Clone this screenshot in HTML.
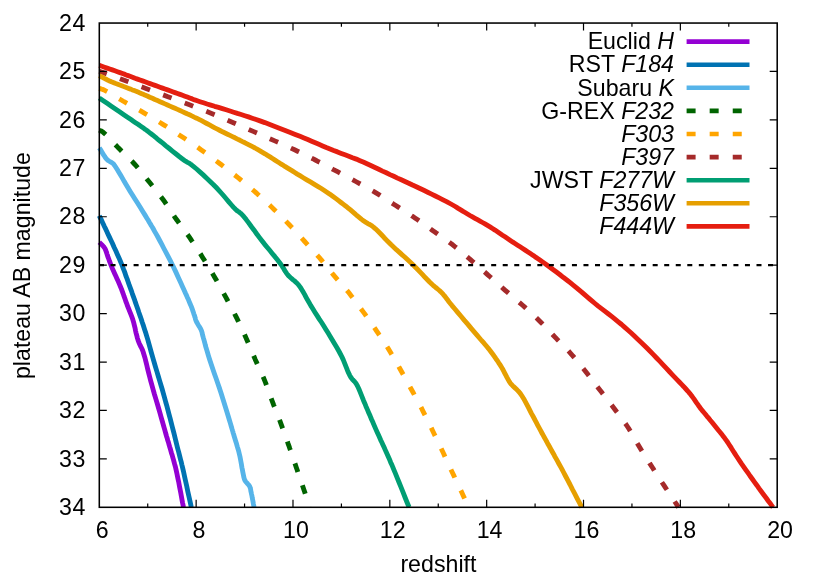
<!DOCTYPE html>
<html lang="en">
<head>
<meta charset="utf-8">
<title>plateau AB magnitude vs redshift</title>
<style>
html,body{margin:0;padding:0;background:#fff;}
body{width:830px;height:581px;overflow:hidden;}
svg{display:block;will-change:transform;}
text{font-family:"Liberation Sans",sans-serif;font-size:23.2px;fill:#000;}
.it{font-style:italic;}
</style>
</head>
<body>
<svg width="830" height="581" viewBox="0 0 830 581">
<rect x="0" y="0" width="830" height="581" fill="#ffffff"/>
<text x="102.20" y="538.25" text-anchor="middle">6</text>
<text x="199.04" y="538.25" text-anchor="middle">8</text>
<text x="295.89" y="538.25" text-anchor="middle">10</text>
<text x="392.73" y="538.25" text-anchor="middle">12</text>
<text x="489.57" y="538.25" text-anchor="middle">14</text>
<text x="586.41" y="538.25" text-anchor="middle">16</text>
<text x="683.26" y="538.25" text-anchor="middle">18</text>
<text x="780.10" y="538.25" text-anchor="middle">20</text>
<text x="85.90" y="30.65" text-anchor="end" letter-spacing="0.6">24</text>
<text x="85.90" y="79.10" text-anchor="end" letter-spacing="0.6">25</text>
<text x="85.90" y="127.55" text-anchor="end" letter-spacing="0.6">26</text>
<text x="85.90" y="176.00" text-anchor="end" letter-spacing="0.6">27</text>
<text x="85.90" y="224.45" text-anchor="end" letter-spacing="0.6">28</text>
<text x="85.90" y="272.90" text-anchor="end" letter-spacing="0.6">29</text>
<text x="85.90" y="321.35" text-anchor="end" letter-spacing="0.6">30</text>
<text x="85.90" y="369.80" text-anchor="end" letter-spacing="0.6">31</text>
<text x="85.90" y="418.25" text-anchor="end" letter-spacing="0.6">32</text>
<text x="85.90" y="466.70" text-anchor="end" letter-spacing="0.6">33</text>
<text x="85.90" y="515.15" text-anchor="end" letter-spacing="0.6">34</text>
<text x="438.40" y="572.10" text-anchor="middle" font-size="23">redshift</text>
<text transform="translate(29.80 265.60) rotate(-90)" text-anchor="middle">plateau AB magnitude</text>
<g fill="none" stroke-linejoin="round" stroke-linecap="butt" stroke-width="4.85">
<path d="M99.3 242.2L100.0 242.9L100.7 243.6L101.4 244.3L102.2 245.0L102.9 245.8L103.5 246.5L104.1 247.3L104.7 248.1L105.2 249.0L105.6 250.0L106.0 251.0L106.3 252.0L106.7 253.0L107.0 254.1L107.3 255.1L107.7 256.2L108.1 257.4L108.6 258.6L109.0 259.8L109.4 261.0L109.9 262.2L110.4 263.5L110.9 264.9L111.5 266.3L112.4 268.5L113.5 270.9L114.6 273.4L115.8 276.0L117.0 278.7L118.2 281.3L119.3 283.9L120.4 286.5L121.4 288.9L122.3 291.4L123.2 293.8L124.0 296.2L124.9 298.6L125.7 301.0L126.6 303.3L127.4 305.6L128.1 307.5L128.9 309.3L129.6 311.1L130.3 312.9L131.0 314.6L131.7 316.4L132.4 318.3L133.0 320.2L133.7 322.6L134.3 325.1L135.0 327.8L135.5 330.5L136.1 333.1L136.8 335.7L137.4 338.1L138.1 340.4L138.7 342.0L139.3 343.4L139.9 344.7L140.5 346.0L141.2 347.3L141.8 348.6L142.5 350.1L143.1 351.8L144.0 354.8L145.0 358.0L145.9 361.6L146.8 365.3L147.7 369.2L148.7 373.1L149.7 377.0L150.7 380.9L151.9 385.2L153.2 389.8L154.5 394.5L155.9 399.1L157.3 403.8L158.6 408.2L159.8 412.4L160.9 416.3L161.6 418.8L162.3 421.2L162.9 423.4L163.5 425.5L164.1 427.6L164.7 429.7L165.3 431.8L165.9 434.0L166.5 436.2L167.2 438.3L167.8 440.5L168.5 442.6L169.1 444.8L169.7 446.9L170.4 449.1L171.0 451.3L171.6 453.5L172.3 455.6L172.9 457.8L173.5 459.9L174.1 462.1L174.7 464.4L175.4 466.8L176.0 469.4L176.9 473.5L177.8 477.9L178.8 482.6L179.7 487.5L180.7 492.5L181.6 497.5L182.5 502.5L183.5 507.3" stroke="#9400D3"/>
<path d="M99.3 215.7L100.3 217.9L101.4 220.0L102.4 222.2L103.4 224.3L104.4 226.5L105.5 228.7L106.6 231.0L107.7 233.4L109.2 236.6L110.8 240.0L112.5 243.5L114.1 247.2L115.8 250.8L117.4 254.4L119.0 257.9L120.4 261.2L121.5 263.9L122.5 266.4L123.4 268.9L124.4 271.4L125.3 273.9L126.1 276.4L127.1 278.9L128.0 281.5L129.0 284.4L130.1 287.3L131.2 290.3L132.2 293.3L133.3 296.3L134.4 299.3L135.4 302.4L136.5 305.5L137.7 308.8L138.8 312.2L140.0 315.6L141.2 319.0L142.3 322.5L143.5 325.9L144.6 329.4L145.7 332.8L146.7 336.1L147.7 339.4L148.6 342.6L149.5 345.9L150.4 349.2L151.3 352.5L152.3 355.9L153.3 359.4L154.5 363.5L155.7 367.7L157.0 371.9L158.3 376.3L159.6 380.6L160.9 385.0L162.2 389.3L163.4 393.6L164.6 397.8L165.7 402.0L166.9 406.2L168.0 410.4L169.1 414.6L170.2 418.7L171.2 422.7L172.2 426.5L173.0 429.7L173.8 432.7L174.6 435.8L175.3 438.7L176.0 441.6L176.7 444.5L177.4 447.3L178.1 450.0L178.7 452.2L179.2 454.2L179.7 456.2L180.2 458.2L180.7 460.1L181.3 462.2L181.8 464.5L182.4 466.9L183.4 471.1L184.4 475.8L185.5 480.8L186.7 486.0L187.8 491.4L189.0 496.8L190.2 502.1L191.3 507.3" stroke="#0072B2"/>
<path d="M99.3 147.8L100.3 149.3L101.2 150.9L102.2 152.5L103.1 154.1L104.1 155.6L105.0 157.1L106.0 158.4L107.0 159.5L107.8 160.2L108.6 160.8L109.4 161.3L110.2 161.7L111.0 162.2L111.7 162.6L112.4 163.0L113.0 163.5L113.3 163.8L113.6 164.1L113.8 164.3L114.0 164.6L114.2 164.9L114.4 165.2L114.7 165.6L115.0 166.0L116.1 167.7L117.4 169.8L119.0 172.4L120.7 175.3L122.5 178.4L124.3 181.6L126.2 184.8L128.0 187.8L130.2 191.4L132.6 195.3L135.1 199.3L137.7 203.3L140.2 207.3L142.6 211.2L144.9 214.9L146.9 218.2L148.2 220.3L149.3 222.2L150.4 224.0L151.4 225.8L152.5 227.5L153.5 229.3L154.6 231.3L155.8 233.4L157.7 236.8L159.7 240.5L161.8 244.4L163.9 248.5L166.1 252.6L168.2 256.7L170.3 260.7L172.2 264.5L173.8 267.7L175.3 270.9L176.8 274.1L178.2 277.2L179.6 280.3L181.0 283.3L182.3 286.2L183.6 289.0L184.6 291.2L185.6 293.5L186.6 295.6L187.5 297.7L188.5 299.8L189.3 301.8L190.1 303.7L190.9 305.6L191.5 307.0L192.0 308.4L192.5 309.8L192.9 311.1L193.4 312.4L193.8 313.7L194.2 314.9L194.6 316.0L194.8 316.8L195.1 317.5L195.3 318.2L195.4 318.9L195.6 319.5L195.8 320.2L196.1 320.9L196.4 321.6L196.9 322.6L197.5 323.6L198.1 324.7L198.8 325.8L199.5 326.8L200.1 327.9L200.7 329.0L201.2 330.0L201.5 330.8L201.8 331.6L202.0 332.3L202.2 333.1L202.3 333.8L202.5 334.6L202.7 335.5L203.0 336.5L203.5 338.4L204.1 340.4L204.7 342.6L205.3 345.0L206.0 347.5L206.8 350.1L207.6 352.8L208.4 355.6L209.7 359.8L211.2 364.3L212.8 369.0L214.5 374.0L216.3 379.0L218.0 384.0L219.7 388.9L221.2 393.6L222.6 398.0L224.0 402.5L225.4 407.0L226.8 411.5L228.1 415.8L229.3 419.8L230.4 423.4L231.3 426.5L231.7 427.8L232.0 428.9L232.3 429.9L232.6 430.9L232.9 431.8L233.1 432.8L233.5 433.8L233.8 435.0L234.4 437.0L235.1 439.2L235.8 441.6L236.6 444.1L237.3 446.6L238.1 449.2L238.8 451.7L239.4 454.2L240.0 456.7L240.5 459.4L241.0 462.1L241.5 464.8L241.9 467.4L242.4 469.8L242.8 472.0L243.2 474.0L243.4 475.0L243.6 475.9L243.7 476.7L243.9 477.5L244.1 478.2L244.3 478.9L244.6 479.7L244.9 480.4L245.4 481.2L245.9 481.9L246.6 482.6L247.3 483.4L247.9 484.1L248.6 484.8L249.1 485.5L249.6 486.3L249.9 487.0L250.2 487.7L250.4 488.5L250.6 489.2L250.7 489.9L250.8 490.7L251.0 491.6L251.2 492.5L251.5 494.0L251.9 495.7L252.2 497.6L252.6 499.5L253.0 501.5L253.3 503.4L253.7 505.4L254.1 507.3" stroke="#56B4E9"/>
<path d="M99.3 130.1L99.7 130.3L100.1 130.5L100.5 130.7L100.9 130.8L101.3 131.0L101.7 131.3L102.2 131.5L102.7 131.9L104.1 133.1L105.9 134.7L107.8 136.7L109.8 138.8L112.0 141.1L114.1 143.5L116.3 145.7L118.3 147.8L120.3 149.8L122.2 151.7L124.2 153.6L126.2 155.5L128.2 157.5L130.1 159.4L132.1 161.4L134.0 163.5L136.0 165.7L138.0 168.0L139.9 170.4L141.9 172.8L143.8 175.2L145.7 177.6L147.6 180.0L149.5 182.3L151.3 184.5L153.1 186.7L154.8 188.9L156.6 191.1L158.3 193.3L160.0 195.5L161.7 197.7L163.4 200.0L165.1 202.4L166.7 204.8L168.4 207.2L170.0 209.7L171.6 212.2L173.2 214.6L174.8 217.1L176.5 219.5L178.2 221.8L179.8 224.1L181.5 226.4L183.2 228.7L184.9 231.0L186.6 233.3L188.3 235.6L189.9 237.9L191.5 240.3L193.2 242.7L194.8 245.1L196.3 247.6L197.9 250.0L199.5 252.5L201.1 254.9L202.6 257.4L204.1 259.8L205.6 262.2L207.1 264.7L208.6 267.1L210.1 269.5L211.6 272.0L213.0 274.4L214.5 276.9L216.0 279.4L217.4 282.0L218.8 284.5L220.3 287.1L221.7 289.7L223.1 292.2L224.5 294.8L225.9 297.4L227.3 300.0L228.7 302.6L230.1 305.2L231.5 307.8L232.8 310.4L234.2 313.0L235.5 315.6L236.8 318.2L238.1 320.8L239.3 323.3L240.5 325.9L241.7 328.4L242.9 331.0L244.1 333.6L245.2 336.1L246.4 338.7L247.5 341.3L248.6 343.9L249.7 346.4L250.8 349.0L251.9 351.6L253.0 354.2L254.1 356.8L255.2 359.4L256.4 362.0L257.5 364.6L258.7 367.2L260.0 369.8L261.2 372.5L262.3 375.1L263.5 377.7L264.6 380.4L265.7 383.1L266.7 385.9L267.7 388.6L268.7 391.4L269.7 394.1L270.7 396.9L271.7 399.7L272.7 402.4L273.7 405.1L274.8 407.8L275.8 410.5L276.9 413.2L277.9 415.8L278.9 418.5L280.0 421.2L281.0 423.9L282.0 426.6L283.0 429.4L284.0 432.1L285.0 434.8L286.0 437.6L287.0 440.3L287.9 443.1L288.9 445.8L289.8 448.5L290.8 451.2L291.7 453.9L292.6 456.6L293.5 459.3L294.5 462.1L295.4 464.8L296.3 467.5L297.3 470.3L298.2 473.1L299.2 475.9L300.2 478.7L301.1 481.5L302.1 484.3L303.0 487.0L303.9 489.7L304.7 492.0L305.4 494.2L306.1 496.4L306.8 498.6L307.5 500.8L308.2 502.9L308.9 505.1L309.6 507.3" stroke="#006400" stroke-dasharray="9 14.07" stroke-dashoffset="1.1"/>
<path d="M99.3 88.4L99.9 88.6L100.4 88.7L100.9 88.9L101.4 89.0L102.0 89.2L102.6 89.4L103.2 89.6L103.9 89.9L105.7 90.8L107.8 91.9L110.1 93.3L112.6 94.8L115.2 96.4L117.8 98.0L120.4 99.5L122.9 101.0L125.4 102.4L127.9 103.8L130.4 105.3L133.0 106.7L135.5 108.1L138.1 109.5L140.6 110.9L143.1 112.4L145.6 113.9L148.1 115.3L150.6 116.8L153.0 118.3L155.5 119.8L158.0 121.3L160.4 122.8L162.9 124.3L165.4 125.8L167.8 127.4L170.3 129.0L172.7 130.6L175.1 132.2L177.6 133.8L180.0 135.4L182.4 137.0L184.8 138.6L187.2 140.2L189.6 141.8L191.9 143.4L194.3 145.0L196.6 146.6L199.0 148.3L201.3 149.9L203.5 151.5L205.8 153.1L208.0 154.7L210.2 156.4L212.4 158.0L214.6 159.6L216.8 161.3L219.0 163.0L221.4 164.8L223.7 166.6L226.1 168.4L228.5 170.3L230.9 172.1L233.3 174.0L235.7 175.8L238.0 177.7L240.3 179.5L242.5 181.3L244.7 183.2L247.0 185.0L249.2 186.8L251.4 188.7L253.5 190.5L255.7 192.4L257.8 194.3L259.9 196.1L262.0 198.0L264.0 199.9L266.1 201.8L268.1 203.7L270.2 205.6L272.2 207.6L274.3 209.7L276.5 211.7L278.6 213.8L280.7 215.9L282.8 218.1L285.0 220.2L287.0 222.4L289.1 224.5L291.1 226.6L293.1 228.7L295.0 230.9L297.0 233.0L298.9 235.1L300.8 237.2L302.8 239.4L304.7 241.5L306.6 243.6L308.5 245.7L310.5 247.7L312.4 249.8L314.3 251.9L316.2 254.0L318.0 256.1L319.9 258.2L321.7 260.4L323.5 262.6L325.3 264.8L327.1 267.0L328.9 269.2L330.7 271.5L332.5 273.7L334.3 275.9L336.2 278.1L338.1 280.3L340.0 282.5L341.9 284.7L343.9 286.9L345.8 289.1L347.7 291.3L349.5 293.6L351.3 295.9L353.1 298.2L354.8 300.5L356.6 302.8L358.3 305.1L360.0 307.4L361.7 309.8L363.4 312.1L365.1 314.4L366.7 316.7L368.4 319.1L370.0 321.4L371.6 323.7L373.3 326.1L374.9 328.4L376.5 330.8L378.1 333.2L379.8 335.7L381.4 338.1L383.1 340.6L384.7 343.1L386.3 345.5L387.9 348.0L389.4 350.5L390.9 353.0L392.3 355.4L393.8 357.9L395.2 360.4L396.6 362.8L398.0 365.3L399.4 367.8L400.8 370.3L402.2 372.8L403.6 375.3L405.0 377.8L406.4 380.4L407.8 382.9L409.2 385.4L410.6 388.0L412.0 390.5L413.4 393.0L414.7 395.6L416.1 398.1L417.5 400.6L418.8 403.2L420.2 405.7L421.5 408.2L422.8 410.8L424.1 413.4L425.4 416.0L426.7 418.6L428.0 421.2L429.2 423.8L430.5 426.3L431.8 428.9L433.0 431.5L434.2 434.0L435.4 436.5L436.6 438.9L437.8 441.4L438.9 443.8L440.1 446.3L441.3 448.8L442.5 451.3L443.8 454.0L445.0 456.7L446.3 459.4L447.6 462.2L448.9 465.0L450.2 467.7L451.4 470.5L452.7 473.2L454.0 475.9L455.2 478.6L456.5 481.3L457.8 484.0L459.1 486.7L460.3 489.3L461.5 491.8L462.6 494.2L463.4 496.0L464.2 497.7L465.0 499.3L465.7 500.9L466.5 502.5L467.2 504.1L467.9 505.7L468.7 507.3" stroke="#FFA500" stroke-dasharray="9 14.07" stroke-dashoffset="0.5"/>
<path d="M99.3 71.2L102.4 72.3L105.4 73.4L108.3 74.5L111.3 75.6L114.4 76.7L117.5 77.8L120.8 79.0L124.2 80.3L129.1 82.1L134.3 84.0L139.7 86.1L145.3 88.2L151.0 90.3L156.7 92.5L162.4 94.6L167.9 96.7L173.3 98.7L178.7 100.8L184.1 102.8L189.5 104.8L194.9 106.9L200.3 108.9L205.7 111.1L211.0 113.2L216.3 115.4L221.6 117.6L226.9 119.9L232.2 122.2L237.4 124.5L242.7 126.8L248.0 129.1L253.2 131.4L258.5 133.7L263.9 136.1L269.4 138.5L274.8 140.9L280.2 143.2L285.3 145.5L290.1 147.7L294.6 149.8L297.5 151.2L300.3 152.5L302.9 153.8L305.4 155.0L307.9 156.2L310.3 157.5L312.8 158.7L315.3 160.0L317.8 161.3L320.4 162.6L322.9 163.9L325.4 165.3L327.9 166.6L330.5 167.9L333.0 169.3L335.5 170.6L338.0 171.9L340.6 173.3L343.1 174.6L345.7 176.0L348.2 177.4L350.7 178.7L353.3 180.1L355.8 181.5L358.3 182.9L360.9 184.3L363.4 185.7L365.9 187.1L368.5 188.5L371.0 190.0L373.5 191.4L376.0 192.9L378.5 194.4L381.0 196.0L383.5 197.5L385.9 199.1L388.4 200.7L390.9 202.3L393.3 203.9L395.8 205.5L398.3 207.1L400.7 208.6L403.2 210.2L405.6 211.8L408.0 213.4L410.5 215.0L412.9 216.6L415.3 218.2L417.7 219.8L420.1 221.5L422.4 223.2L424.8 224.9L427.2 226.5L429.5 228.2L431.9 229.9L434.2 231.6L436.5 233.2L438.9 234.9L441.2 236.5L443.5 238.1L445.8 239.8L448.2 241.4L450.4 243.1L452.7 244.8L454.9 246.6L457.1 248.3L459.3 250.1L461.5 252.0L463.7 253.8L465.8 255.7L468.0 257.5L470.2 259.4L472.4 261.3L474.7 263.3L476.9 265.2L479.2 267.2L481.4 269.2L483.7 271.2L485.9 273.1L488.1 275.1L490.3 277.0L492.4 278.9L494.5 280.8L496.7 282.7L498.8 284.6L500.9 286.5L503.0 288.4L505.2 290.3L507.4 292.2L509.6 294.1L511.8 296.0L514.1 297.9L516.3 299.8L518.5 301.7L520.7 303.6L522.9 305.5L525.0 307.4L527.1 309.3L529.2 311.1L531.2 313.0L533.3 314.9L535.3 316.8L537.3 318.7L539.3 320.7L541.3 322.7L543.3 324.7L545.2 326.8L547.2 328.8L549.1 330.9L551.1 333.0L553.0 335.0L555.0 337.1L557.0 339.2L559.0 341.2L561.0 343.3L563.1 345.4L565.1 347.5L567.1 349.5L569.1 351.7L571.0 353.8L572.9 356.0L574.8 358.1L576.6 360.3L578.4 362.5L580.2 364.8L582.0 367.0L583.8 369.2L585.6 371.5L587.4 373.8L589.3 376.2L591.1 378.5L592.9 380.9L594.7 383.3L596.5 385.6L598.3 388.0L600.1 390.3L601.9 392.6L603.6 394.8L605.4 397.0L607.1 399.3L608.8 401.5L610.6 403.7L612.3 405.9L614.0 408.2L615.7 410.5L617.4 412.7L619.1 415.0L620.8 417.2L622.5 419.5L624.2 421.8L625.8 424.1L627.4 426.5L629.0 428.9L630.5 431.4L631.9 433.9L633.4 436.4L634.8 439.0L636.3 441.5L637.7 444.0L639.2 446.5L640.7 449.0L642.2 451.4L643.8 453.9L645.3 456.3L646.8 458.8L648.4 461.2L649.9 463.7L651.5 466.1L653.1 468.5L654.6 471.0L656.2 473.4L657.7 475.8L659.3 478.2L660.9 480.6L662.4 483.0L664.0 485.4L665.6 487.8L667.3 490.3L669.0 492.9L670.6 495.4L672.3 497.8L673.7 500.0L675.0 502.0L676.1 503.6L676.5 504.2L676.8 504.7L677.1 505.2L677.4 505.6L677.7 506.0L677.9 506.4L678.2 506.9L678.5 507.3" stroke="#A52A2A" stroke-dasharray="9 14.07" stroke-dashoffset="1.1"/>
<path d="M99.3 98.0L103.3 100.7L107.5 103.6L111.7 106.4L115.8 109.2L119.9 112.0L123.8 114.7L127.5 117.2L131.0 119.6L133.3 121.2L135.5 122.7L137.6 124.1L139.6 125.4L141.5 126.8L143.4 128.1L145.3 129.4L147.2 130.8L148.9 132.1L150.4 133.3L152.0 134.5L153.5 135.7L155.0 136.9L156.6 138.2L158.2 139.6L160.0 141.0L162.8 143.2L165.9 145.8L169.3 148.5L172.7 151.3L176.1 154.0L179.2 156.5L182.1 158.7L184.5 160.5L185.5 161.2L186.4 161.7L187.1 162.1L187.9 162.5L188.6 162.9L189.4 163.3L190.2 163.9L191.2 164.6L193.7 166.6L196.6 169.0L199.8 171.8L203.2 174.9L206.7 178.2L210.1 181.5L213.5 184.7L216.5 187.8L219.1 190.6L221.7 193.5L224.3 196.5L226.8 199.5L229.2 202.4L231.5 205.0L233.6 207.4L235.5 209.3L236.4 210.1L237.2 210.8L237.9 211.3L238.7 211.8L239.4 212.3L240.1 212.9L240.9 213.5L241.8 214.4L243.9 216.7L246.2 219.6L248.7 222.9L251.3 226.5L254.1 230.2L256.8 234.0L259.5 237.6L262.1 241.0L264.5 244.1L267.1 247.2L269.7 250.3L272.2 253.4L274.7 256.4L277.0 259.3L279.1 262.0L281.0 264.5L282.0 266.0L282.9 267.4L283.8 268.8L284.5 270.1L285.3 271.3L286.1 272.5L286.9 273.8L287.9 275.0L289.1 276.3L290.4 277.5L291.7 278.6L293.1 279.8L294.5 280.9L295.9 282.2L297.3 283.5L298.6 285.0L300.2 287.1L301.7 289.5L303.2 292.0L304.7 294.6L306.1 297.3L307.6 300.1L309.2 302.8L310.8 305.6L312.8 308.8L314.9 312.2L317.1 315.6L319.3 319.1L321.6 322.5L323.8 326.0L325.9 329.4L328.0 332.8L329.9 335.9L331.7 338.9L333.5 342.0L335.3 345.0L337.1 348.0L338.8 351.0L340.4 354.0L341.9 356.9L343.2 359.6L344.3 362.3L345.4 365.1L346.5 367.8L347.5 370.4L348.6 372.9L349.6 375.1L350.7 377.1L351.4 378.1L352.1 379.0L352.8 379.8L353.5 380.5L354.2 381.2L354.9 382.0L355.6 382.8L356.3 383.9L357.5 386.0L358.7 388.5L359.8 391.2L361.0 394.1L362.2 397.1L363.4 400.2L364.7 403.2L365.9 406.2L367.3 409.4L368.7 412.7L370.2 416.1L371.6 419.5L373.1 422.8L374.5 426.2L375.9 429.4L377.3 432.5L378.5 435.1L379.6 437.6L380.7 440.1L381.9 442.5L383.0 444.9L384.1 447.3L385.1 449.6L386.2 452.0L387.2 454.2L388.1 456.3L389.0 458.3L389.9 460.3L390.7 462.4L391.7 464.6L392.7 466.9L393.7 469.4L395.4 473.4L397.2 477.8L399.1 482.5L401.1 487.4L403.1 492.4L405.1 497.5L407.1 502.5L409.1 507.3" stroke="#009E73"/>
<path d="M99.3 75.7L100.6 76.4L101.8 77.0L103.1 77.7L104.3 78.4L105.6 79.0L106.9 79.7L108.2 80.3L109.6 81.0L111.4 81.8L113.2 82.5L115.1 83.3L117.1 84.0L119.1 84.8L121.1 85.5L123.1 86.3L125.0 87.0L126.9 87.7L128.7 88.4L130.6 89.1L132.4 89.9L134.2 90.6L136.1 91.3L138.0 92.1L140.0 92.9L142.4 93.9L144.8 95.0L147.3 96.0L149.8 97.2L152.4 98.3L154.9 99.5L157.5 100.6L160.0 101.7L162.5 102.8L165.0 103.9L167.5 105.0L170.0 106.1L172.5 107.2L175.0 108.3L177.5 109.4L180.0 110.5L182.4 111.6L184.8 112.7L187.1 113.8L189.5 114.8L191.8 115.9L194.2 117.1L196.6 118.2L199.0 119.4L201.6 120.7L204.2 122.1L206.8 123.5L209.5 124.9L212.1 126.3L214.8 127.8L217.4 129.1L220.0 130.5L222.5 131.8L225.0 133.0L227.5 134.2L230.0 135.4L232.5 136.6L235.0 137.8L237.5 139.1L240.0 140.3L242.5 141.6L245.0 142.8L247.5 144.1L250.0 145.4L252.5 146.7L255.0 148.0L257.5 149.4L260.0 150.8L262.5 152.3L265.0 153.8L267.5 155.4L270.0 156.9L272.5 158.5L275.0 160.1L277.5 161.7L280.0 163.3L282.5 164.8L284.9 166.4L287.3 167.9L289.8 169.4L292.3 170.9L294.8 172.5L297.3 174.1L300.0 175.7L303.3 177.7L306.8 179.8L310.4 181.9L314.0 184.1L317.7 186.3L321.3 188.5L324.7 190.7L328.0 192.9L330.7 194.8L333.4 196.7L336.0 198.6L338.6 200.6L341.0 202.5L343.5 204.4L345.9 206.2L348.2 208.1L350.2 209.7L352.2 211.4L354.2 213.1L356.1 214.8L358.0 216.4L359.8 217.9L361.6 219.4L363.4 220.7L364.7 221.6L366.0 222.4L367.2 223.1L368.4 223.8L369.7 224.5L370.9 225.2L372.2 226.1L373.5 227.1L375.5 228.8L377.6 230.8L379.8 233.0L382.0 235.3L384.2 237.7L386.5 240.1L388.9 242.5L391.2 244.8L393.8 247.2L396.4 249.7L399.2 252.1L401.9 254.6L404.7 257.0L407.4 259.5L410.1 262.0L412.7 264.5L415.2 267.0L417.7 269.5L420.2 272.1L422.6 274.7L425.0 277.3L427.4 279.7L429.6 282.0L431.7 284.0L433.1 285.3L434.4 286.4L435.7 287.5L437.0 288.5L438.2 289.5L439.4 290.5L440.6 291.6L441.8 292.8L443.1 294.2L444.3 295.7L445.5 297.1L446.7 298.7L447.9 300.3L449.1 302.0L450.5 303.7L452.0 305.6L454.7 308.8L457.7 312.4L461.0 316.3L464.4 320.4L467.9 324.4L471.2 328.4L474.4 332.1L477.2 335.4L479.0 337.5L480.7 339.5L482.4 341.4L484.0 343.2L485.5 345.0L487.0 346.8L488.5 348.6L490.0 350.5L491.5 352.5L493.0 354.5L494.5 356.6L495.9 358.7L497.4 360.7L498.7 362.8L500.1 364.9L501.4 367.0L502.6 369.0L503.7 371.1L504.7 373.1L505.8 375.2L506.8 377.2L507.9 379.2L509.0 381.1L510.2 382.9L511.4 384.4L512.6 385.7L513.9 386.9L515.2 388.1L516.5 389.3L517.8 390.6L519.1 392.0L520.4 393.6L522.0 396.0L523.7 398.7L525.3 401.6L526.9 404.6L528.5 407.6L530.0 410.6L531.5 413.6L533.0 416.3L534.2 418.5L535.3 420.6L536.4 422.7L537.5 424.8L538.6 426.8L539.7 428.8L540.8 430.9L541.9 433.0L543.1 435.2L544.4 437.5L545.6 439.7L546.9 442.0L548.1 444.3L549.4 446.5L550.7 448.9L552.0 451.2L553.4 453.7L554.7 456.2L556.1 458.6L557.5 461.2L558.9 463.7L560.4 466.4L561.9 469.1L563.4 472.0L565.5 476.0L567.7 480.2L570.0 484.5L572.3 489.1L574.7 493.6L577.1 498.3L579.5 502.8L581.8 507.3" stroke="#E69F00"/>
<path d="M99.3 65.4L101.9 66.3L104.5 67.2L107.1 68.1L109.7 69.0L112.3 69.9L114.9 70.8L117.4 71.7L120.0 72.6L122.5 73.5L125.0 74.4L127.5 75.4L130.0 76.3L132.5 77.2L135.0 78.2L137.5 79.1L140.0 80.0L142.5 80.9L145.0 81.8L147.5 82.7L150.0 83.6L152.5 84.5L155.0 85.4L157.5 86.3L160.0 87.2L162.5 88.1L165.0 89.0L167.5 89.9L170.0 90.8L172.5 91.7L175.0 92.6L177.5 93.5L180.0 94.4L182.5 95.3L184.9 96.2L187.3 97.1L189.7 98.0L192.2 98.9L194.7 99.9L197.3 100.8L200.0 101.7L203.5 102.8L207.1 104.0L210.8 105.1L214.6 106.3L218.5 107.4L222.4 108.6L226.2 109.8L230.0 111.0L233.7 112.2L237.4 113.4L241.1 114.5L244.8 115.7L248.5 116.9L252.2 118.2L256.1 119.5L260.0 120.9L264.8 122.6L269.8 124.5L274.9 126.4L280.0 128.4L285.2 130.4L290.3 132.4L295.2 134.4L300.0 136.3L304.0 137.9L307.8 139.5L311.6 141.2L315.3 142.8L318.9 144.3L322.6 145.9L326.3 147.5L330.0 149.0L333.7 150.5L337.5 151.9L341.3 153.4L345.0 154.8L348.8 156.2L352.5 157.7L356.3 159.1L360.0 160.7L363.8 162.3L367.5 164.0L371.3 165.8L375.0 167.5L378.8 169.3L382.5 171.1L386.3 172.8L390.0 174.6L393.8 176.3L397.5 178.1L401.3 179.8L405.0 181.5L408.8 183.2L412.5 185.0L416.3 186.7L420.0 188.5L423.8 190.3L427.7 192.2L431.6 194.1L435.4 196.0L439.2 197.9L443.0 199.8L446.6 201.6L450.0 203.5L452.7 205.0L455.3 206.5L457.8 208.1L460.3 209.6L462.7 211.1L465.1 212.5L467.5 214.0L470.0 215.5L472.5 216.9L475.0 218.3L477.5 219.7L480.0 221.1L482.5 222.5L485.0 223.9L487.5 225.4L490.0 226.9L492.5 228.5L495.0 230.1L497.5 231.8L500.0 233.5L502.5 235.2L505.0 236.8L507.5 238.5L510.0 240.2L512.5 241.9L515.0 243.5L517.6 245.2L520.1 246.8L522.7 248.5L525.2 250.1L527.6 251.7L530.0 253.3L532.1 254.7L534.1 256.1L536.0 257.4L538.0 258.7L539.9 260.0L541.9 261.4L544.0 262.9L546.2 264.5L549.3 266.8L552.6 269.2L556.1 271.8L559.7 274.5L563.2 277.3L566.8 280.0L570.2 282.7L573.5 285.3L576.3 287.6L579.0 289.9L581.7 292.1L584.3 294.4L586.9 296.6L589.5 298.9L592.2 301.2L595.0 303.5L598.2 306.1L601.5 308.6L604.8 311.2L608.2 313.8L611.6 316.4L615.0 319.1L618.3 321.8L621.6 324.5L624.8 327.3L628.1 330.2L631.2 333.0L634.4 336.0L637.5 338.9L640.7 341.9L643.8 344.9L646.9 348.0L650.1 351.2L653.4 354.6L656.6 358.0L659.9 361.4L663.1 364.8L666.2 368.2L669.3 371.5L672.2 374.6L674.6 377.1L677.0 379.6L679.3 382.0L681.6 384.4L683.8 386.7L685.9 389.0L688.0 391.3L689.9 393.6L691.4 395.5L692.8 397.4L694.1 399.2L695.4 401.1L696.6 402.9L697.9 404.7L699.2 406.6L700.6 408.4L702.1 410.4L703.7 412.3L705.4 414.3L707.0 416.3L708.7 418.2L710.3 420.2L712.0 422.2L713.6 424.2L715.2 426.2L716.8 428.2L718.4 430.2L720.1 432.2L721.7 434.2L723.2 436.3L724.8 438.3L726.3 440.4L727.8 442.5L729.2 444.7L730.6 446.8L731.9 449.0L733.3 451.2L734.7 453.4L736.2 455.7L737.7 458.0L739.6 460.8L741.6 463.8L743.7 466.8L745.8 469.8L748.0 472.9L750.1 476.0L752.3 479.0L754.5 482.1L756.8 485.2L759.0 488.4L761.3 491.5L763.7 494.7L766.0 497.8L768.3 501.0L770.7 504.1L773.0 507.3" stroke="#E51E10"/>
</g>
<path d="M99.30 265.18H777.20" stroke="#000" stroke-width="2.3" stroke-dasharray="5 6.535" stroke-dashoffset="0.3" fill="none"/>
<text x="674.00" y="49.20" text-anchor="end" xml:space="preserve">Euclid <tspan class="it">H</tspan></text>
<path d="M686.60 41.60H749.50" stroke="#9400D3" stroke-width="4.6" fill="none"/>
<text x="674.00" y="72.35" text-anchor="end" xml:space="preserve">RST <tspan class="it">F184</tspan></text>
<path d="M686.60 64.70H749.50" stroke="#0072B2" stroke-width="4.6" fill="none"/>
<text x="674.00" y="95.50" text-anchor="end" xml:space="preserve">Subaru <tspan class="it">K</tspan></text>
<path d="M686.60 87.80H749.50" stroke="#56B4E9" stroke-width="4.6" fill="none"/>
<text x="674.00" y="118.65" text-anchor="end" xml:space="preserve">G-REX <tspan class="it">F232</tspan></text>
<path d="M686.60 110.90H749.50" stroke="#006400" stroke-width="4.6" stroke-dasharray="9 14.07" fill="none"/>
<text x="674.00" y="141.80" text-anchor="end" xml:space="preserve"><tspan class="it">F303</tspan></text>
<path d="M686.60 134.00H749.50" stroke="#FFA500" stroke-width="4.6" stroke-dasharray="9 14.07" fill="none"/>
<text x="674.00" y="164.95" text-anchor="end" xml:space="preserve"><tspan class="it">F397</tspan></text>
<path d="M686.60 157.10H749.50" stroke="#A52A2A" stroke-width="4.6" stroke-dasharray="9 14.07" fill="none"/>
<text x="674.00" y="188.10" text-anchor="end" xml:space="preserve">JWST <tspan class="it">F277W</tspan></text>
<path d="M686.60 180.20H749.50" stroke="#009E73" stroke-width="4.6" fill="none"/>
<text x="674.00" y="211.25" text-anchor="end" xml:space="preserve"><tspan class="it">F356W</tspan></text>
<path d="M686.60 203.30H749.50" stroke="#E69F00" stroke-width="4.6" fill="none"/>
<text x="674.00" y="234.40" text-anchor="end" xml:space="preserve"><tspan class="it">F444W</tspan></text>
<path d="M686.60 226.40H749.50" stroke="#E51E10" stroke-width="4.6" fill="none"/>
<path d="M147.72 507.30V503.55M147.72 23.05V26.80M196.14 507.30V499.80M196.14 23.05V30.55M244.56 507.30V503.55M244.56 23.05V26.80M292.99 507.30V499.80M292.99 23.05V30.55M341.41 507.30V503.55M341.41 23.05V26.80M389.83 507.30V499.80M389.83 23.05V30.55M438.25 507.30V503.55M438.25 23.05V26.80M486.67 507.30V499.80M486.67 23.05V30.55M535.09 507.30V503.55M535.09 23.05V26.80M583.51 507.30V499.80M583.51 23.05V30.55M631.94 507.30V503.55M631.94 23.05V26.80M680.36 507.30V499.80M680.36 23.05V30.55M728.78 507.30V503.55M728.78 23.05V26.80M99.30 71.47H106.80M777.20 71.47H769.70M99.30 119.90H106.80M777.20 119.90H769.70M99.30 168.33H106.80M777.20 168.33H769.70M99.30 216.75H106.80M777.20 216.75H769.70M99.30 265.18H106.80M777.20 265.18H769.70M99.30 313.60H106.80M777.20 313.60H769.70M99.30 362.03H106.80M777.20 362.03H769.70M99.30 410.45H106.80M777.20 410.45H769.70M99.30 458.88H106.80M777.20 458.88H769.70" stroke="#000" stroke-width="1.2" fill="none"/>
<rect x="99.30" y="23.05" width="677.90" height="484.25" fill="none" stroke="#000" stroke-width="1.55"/>
</svg>
</body>
</html>
